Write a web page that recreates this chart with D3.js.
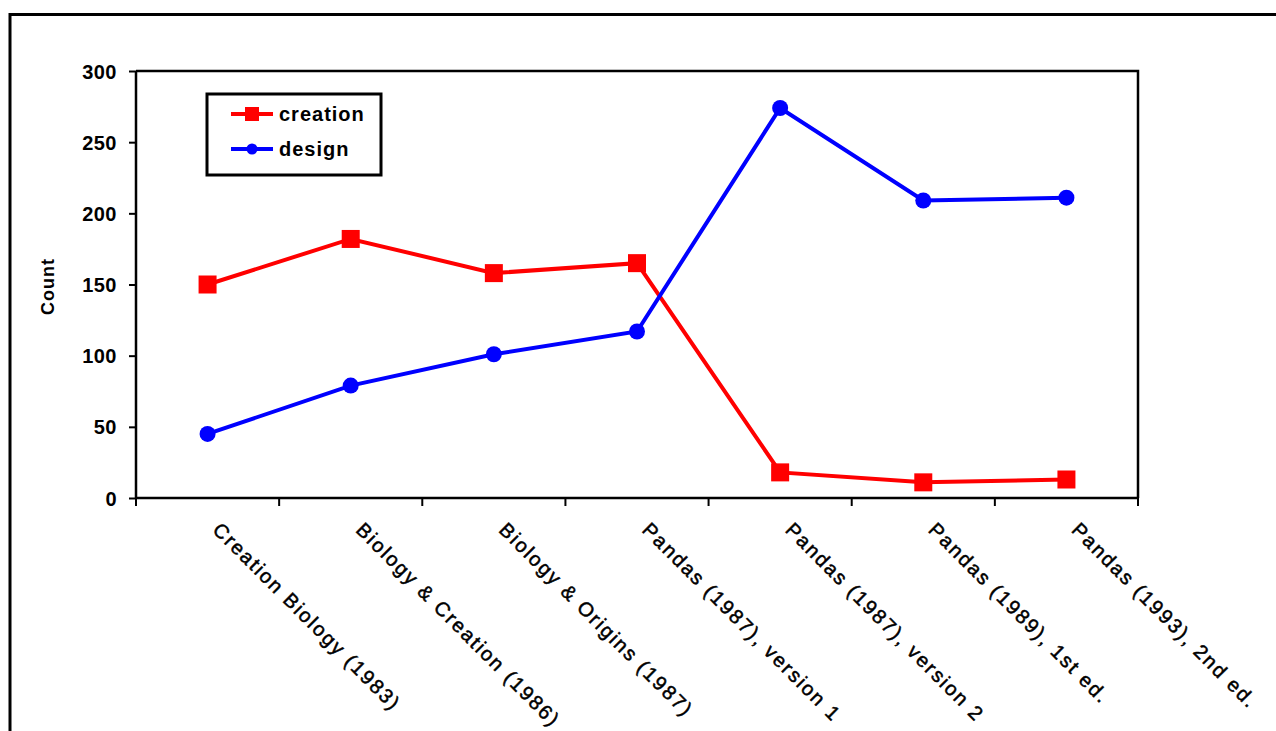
<!DOCTYPE html>
<html><head><meta charset="utf-8">
<script src="https://cdn.jsdelivr.net/npm/d3@7"></script>
<style>html,body{margin:0;padding:0;background:#fff;overflow:hidden}</style>
</head><body>
<svg id="chart" width="1276" height="731"></svg>
<script>
const categories = ["Creation Biology (1983)","Biology & Creation (1986)","Biology & Origins (1987)","Pandas (1987), version 1","Pandas (1987), version 2","Pandas (1989), 1st ed.","Pandas (1993), 2nd ed."];
const creation = [150, 182, 158, 165, 18, 11, 13];
const design = [45, 79, 101, 117, 274, 209, 211];
const yTicks = [0, 50, 100, 150, 200, 250, 300];
const seriesNames = ["creation", "design"];
const seriesColors = ["#ff0000", "#0000ff"];

const svg = d3.select("#chart");
const font = "Arimo, 'Liberation Sans', Arial, sans-serif";
const L = 136, R = 1138, T = 71, B = 498;

// outer frame
svg.append("rect").attr("x", 10).attr("y", 14.5).attr("width", 1280).attr("height", 740)
  .attr("fill", "none").attr("stroke", "#000").attr("stroke-width", 3);

const x = d3.scaleBand().domain(categories).range([L, R]);
const y = d3.scaleLinear().domain([0, 300]).range([B, T]);

// plot frame (top, right)
svg.append("path").attr("d", `M${L},${T}H${R}V${B}`).attr("fill", "none").attr("stroke", "#000").attr("stroke-width", 2.5);

// y axis
const yAxis = svg.append("g").attr("transform", `translate(${L},0)`)
  .call(d3.axisLeft(y).tickValues(yTicks).tickSize(7).tickPadding(12).tickFormat(d3.format("d")));
yAxis.select(".domain").attr("stroke-width", 2.5).attr("d", `M0,${T}V${B}`);
yAxis.selectAll(".tick line").attr("stroke-width", 2);
yAxis.selectAll("text").attr("font-family", font).attr("font-size", 20).attr("font-weight", "bold")
  .attr("letter-spacing", 0.5).attr("dy", "0.35em").attr("fill", "#000");

// x axis ticks at category boundaries
const xg = svg.append("g");
xg.append("line").attr("x1", L).attr("x2", R).attr("y1", B).attr("y2", B).attr("stroke", "#000").attr("stroke-width", 2.5);
const bounds = categories.map(c => x(c)).concat([x(categories[categories.length-1]) + x.bandwidth()]);
xg.selectAll("line.tk").data(bounds).join("line").attr("class","tk")
  .attr("x1", d => d).attr("x2", d => d).attr("y1", B).attr("y2", B + 8)
  .attr("stroke", "#000").attr("stroke-width", 2);
xg.selectAll("text").data(categories).join("text")
  .attr("transform", d => `translate(${x(d) + x.bandwidth()/2 + 4},${B + 33}) rotate(45)`)
  .attr("font-family", font).attr("font-size", 20).attr("font-weight", "normal")
  .attr("letter-spacing", 2).attr("stroke", "#000").attr("stroke-width", 0.5)
  .attr("text-anchor", "start").text(d => d);

// y label
svg.append("text").attr("transform", `translate(54,${(T+B)/2 + 2}) rotate(-90)`)
  .attr("text-anchor", "middle").attr("font-family", font).attr("font-size", 18).attr("font-weight", "bold")
  .attr("letter-spacing", 1).text("Count");

const cx = d => x(d) + x.bandwidth()/2;
const line = d3.line().x(d => cx(d.c)).y(d => y(d.v));
const dataC = categories.map((c, i) => ({c, v: creation[i]}));
const dataD = categories.map((c, i) => ({c, v: design[i]}));

svg.append("path").datum(dataC).attr("d", line).attr("fill", "none").attr("stroke", seriesColors[0]).attr("stroke-width", 4);
svg.append("path").datum(dataD).attr("d", line).attr("fill", "none").attr("stroke", seriesColors[1]).attr("stroke-width", 4);

svg.selectAll("rect.cm").data(dataC).join("rect").attr("class","cm")
  .attr("x", d => cx(d.c) - 9).attr("y", d => y(d.v) - 9).attr("width", 18).attr("height", 18)
  .attr("fill", seriesColors[0]);
svg.selectAll("circle.dm").data(dataD).join("circle").attr("class","dm")
  .attr("cx", d => cx(d.c)).attr("cy", d => y(d.v)).attr("r", 8)
  .attr("fill", seriesColors[1]);

// legend
const lg = svg.append("g");
lg.append("rect").attr("x", 207).attr("y", 94).attr("width", 174).attr("height", 81)
  .attr("fill", "#fff").attr("stroke", "#000").attr("stroke-width", 3);
const ly = [114, 149];
seriesNames.forEach((n, i) => {
  lg.append("line").attr("x1", 231).attr("x2", 273).attr("y1", ly[i]).attr("y2", ly[i])
    .attr("stroke", seriesColors[i]).attr("stroke-width", 4);
  if (i === 0) lg.append("rect").attr("x", 245).attr("y", ly[i]-7).attr("width", 14).attr("height", 14).attr("fill", seriesColors[i]);
  else lg.append("circle").attr("cx", 252).attr("cy", ly[i]).attr("r", 5.5).attr("fill", seriesColors[i]);
  lg.append("text").attr("x", 279).attr("y", ly[i] + 7).attr("font-family", font).attr("font-size", 20)
    .attr("font-weight", "bold").attr("letter-spacing", 1).text(n);
});
</script>
</body></html>
